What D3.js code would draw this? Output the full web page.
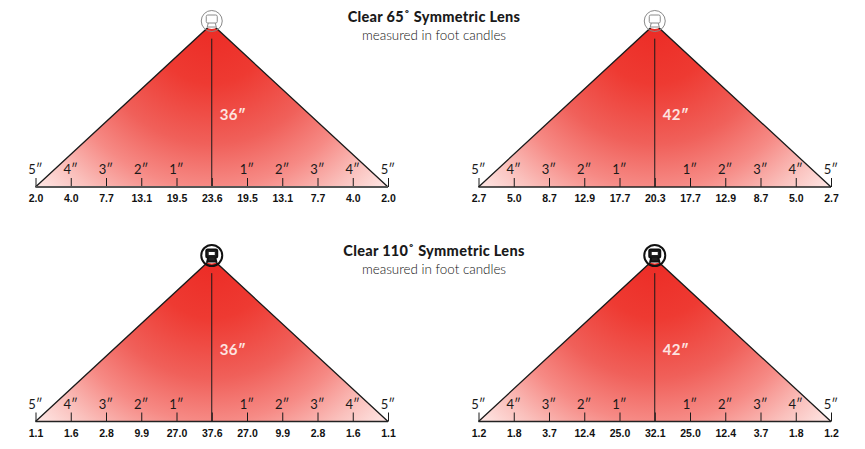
<!DOCTYPE html>
<html>

<head>
    <meta charset="utf-8">
    <style>
        body {
            margin: 0;
            background: #fff;
        }

        svg {
            display: block;
            font-family: "Lato", sans-serif;
        }

        .domain {
            display: none;
        }

        .tick text {
            font-size: 10.5px;
            font-weight: 700;
            fill: #111;
        }

        .title {
            font-size: 14.5px;
            font-weight: 900;
            fill: #1a1a1a;
            letter-spacing: .3px;
        }

        .subtitle {
            font-size: 13.4px;
            font-weight: 300;
            fill: #111;
        }

        .inch {
            font-size: 13px;
            fill: #1a1a1a;
        }

        .height-label {
            font-size: 15px;
            font-weight: 700;
            fill: #fde3e0;
            letter-spacing: .3px;
        }
    </style>
</head>

<body>
    <svg width="865" height="449"></svg>
    <script src="https://d3js.org/d3.v7.min.js"></script>
    <script>
        // distance from the centre line, in inches
        const offsets = [-5, -4, -3, -2, -1, 0, 1, 2, 3, 4, 5]
        const inchLabels = ["5″", "4″", "3″", "2″", "1″", "", "1″", "2″", "3″", "4″", "5″"]

        // foot candle readings
        const clear65at36 = ["2.0", "4.0", "7.7", "13.1", "19.5", "23.6", "19.5", "13.1", "7.7", "4.0", "2.0"]
        const clear65at42 = ["2.7", "5.0", "8.7", "12.9", "17.7", "20.3", "17.7", "12.9", "8.7", "5.0", "2.7"]
        const clear110at36 = ["1.1", "1.6", "2.8", "9.9", "27.0", "37.6", "27.0", "9.9", "2.8", "1.6", "1.1"]
        const clear110at42 = ["1.2", "1.8", "3.7", "12.4", "25.0", "32.1", "25.0", "12.4", "3.7", "1.8", "1.2"]

        const titles = ["Clear 65˚ Symmetric Lens", "Clear 110˚ Symmetric Lens"]
        const subtitle = "measured in foot candles"
        const mountHeights = ["36″", "42″"]

        let svg = d3.select("svg")

        // the light cone fades out from the lamp
        let gradient = svg.append("defs").append("radialGradient")
            .attr("id", "cone")
            .attr("gradientUnits", "objectBoundingBox")
            .attr("cx", 0.5).attr("cy", 0)
            .attr("fx", 0.5).attr("fy", 0)
            .attr("r", 1)
            .attr("gradientTransform", "translate(0.5 0) scale(0.68 1.47) translate(-0.5 0)")

        gradient.selectAll("stop")
            .data([
                ["0%", "#ec2b25"],
                ["25%", "#ee3a32"],
                ["50%", "#f0605a"],
                ["68%", "#f68a85"],
                ["85%", "#fac0bc"],
                ["100%", "#fee8e6"]
            ])
            .join("stop")
            .attr("offset", d => d[0])
            .attr("stop-color", d => d[1])

        function drawPanel(left, base, readings, heightLabel, lampColor, lampWidth, lampFill, baseColor, baseWidth) {
            let x = d3.scaleLinear().domain([-5, 5]).range([left, left + 352.5])
            let y = d3.scaleLinear().domain([0, 1]).range([base, base - 163])

            let g = svg.append("g")

            let outline = d3.line().x(d => x(d[0])).y(d => y(d[1]))

            g.append("path")
                .attr("d", outline([[-5, 0], [0, 1], [5, 0]]) + "Z")
                .attr("fill", "url(#cone)")

            g.append("path")
                .attr("d", outline([[-5, 0], [0, 1], [5, 0]]))
                .attr("fill", "none")
                .attr("stroke", "#1a1a1a")
                .attr("stroke-width", 1.3)

            // centre line, it starts a bit under the lamp
            g.append("line")
                .attr("x1", x(0)).attr("x2", x(0))
                .attr("y1", y(0.91)).attr("y2", y(0))
                .attr("stroke", "#1a1a1a")

            g.append("text")
                .attr("class", "height-label")
                .attr("x", x(0) + 8)
                .attr("y", y(0.41))
                .text(heightLabel)

            let axis = d3.axisBottom(x)
                .tickValues(offsets)
                .tickSize(-9)
                .tickPadding(8)
                .tickFormat((d, i) => readings[i])

            let axisG = g.append("g")
                .attr("transform", `translate(0,${base})`)
                .call(axis)

            axisG.selectAll(".tick line").attr("stroke", "#1a1a1a")

            g.append("line")
                .attr("x1", x(-5)).attr("x2", x(5))
                .attr("y1", base).attr("y2", base)
                .attr("stroke", baseColor)
                .attr("stroke-width", baseWidth)

            g.selectAll(".inch")
                .data(offsets)
                .join("text")
                .attr("class", "inch")
                .attr("x", d => x(d))
                .attr("y", base - 13)
                .attr("text-anchor", "middle")
                .text((d, i) => inchLabels[i])

            // lamp icon, the white disc cuts off the tip of the cone
            let lamp = g.append("g")
                .attr("transform", `translate(${x(0)},${y(1) - 3})`)
                .attr("fill", "none")
                .attr("stroke", lampColor)

            lamp.append("circle")
                .attr("r", 8)
                .attr("fill", "#fff")
                .attr("stroke", "none")

            lamp.append("circle")
                .attr("r", 10.5)
                .attr("stroke-width", lampWidth)

            lamp.append("rect")
                .attr("x", -5.5).attr("y", -6)
                .attr("width", 11).attr("height", 8)
                .attr("rx", 1.5)
                .attr("fill", lampFill)
                .attr("stroke-width", lampWidth)

            lamp.append("rect")
                .attr("x", -3).attr("y", -3.5)
                .attr("width", 6).attr("height", 3)
                .attr("fill", "#fff")
                .attr("stroke", "none")

            lamp.append("path")
                .attr("d", "M-3.5,2L-4.5,6L4.5,6L3.5,2")
                .attr("fill", lampFill)
                .attr("stroke-width", lampWidth)
        }

        drawPanel(35.5, 187, clear65at36, mountHeights[0], "#8a8a8a", 1, "none", "#555", 2)
        drawPanel(478.5, 187, clear65at42, mountHeights[1], "#8a8a8a", 1, "none", "#222", 1.3)
        drawPanel(35.5, 421.5, clear110at36, mountHeights[0], "#111", 2, "#222", "#222", 1.3)
        drawPanel(478.5, 421.5, clear110at42, mountHeights[1], "#111", 2, "#222", "#222", 1.3)

        svg.selectAll(".title")
            .data(titles)
            .join("text")
            .attr("class", "title")
            .attr("x", 434)
            .attr("y", (d, i) => i == 0 ? 22 : 256)
            .attr("text-anchor", "middle")
            .text(d => d)

        svg.selectAll(".subtitle")
            .data(titles)
            .join("text")
            .attr("class", "subtitle")
            .attr("x", 434)
            .attr("y", (d, i) => i == 0 ? 40 : 274)
            .attr("text-anchor", "middle")
            .text(subtitle)
    </script>
</body>

</html>
